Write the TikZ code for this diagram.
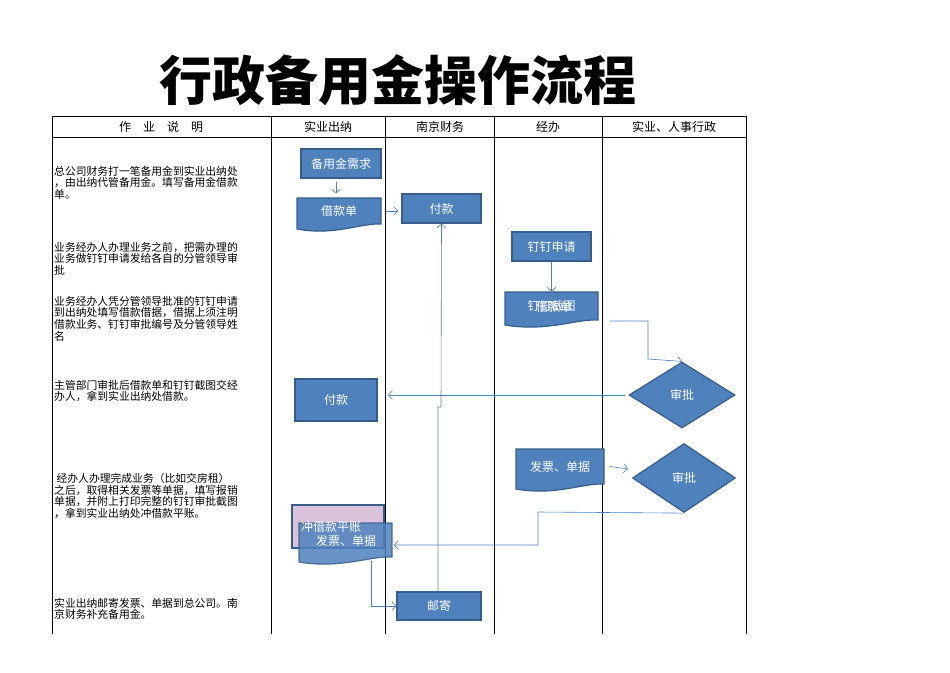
\documentclass[tikz,border=0pt]{standalone}
\usepackage{fontspec}
\setmainfont{Noto Sans CJK SC}
\usetikzlibrary{shapes.geometric,arrows.meta}
\definecolor{boxblue}{HTML}{4F81BD}
\definecolor{boxline}{HTML}{385D8A}
\definecolor{lilac}{HTML}{D9C3DA}
\tikzset{
  box/.style={draw=boxline,fill=boxblue,line width=1.2pt,text=white,font=\fontsize{12}{13}\selectfont,inner sep=0pt},
  docfill/.style={draw=boxline,fill=boxblue,line width=1.2pt},
  flow/.style={draw=boxblue,line width=0.6pt,-{Straight Barb[length=4pt,width=9pt]}},
  note/.style={anchor=north west,align=left,inner sep=0pt,font=\fontsize{10.8}{11.6}\selectfont},
  head/.style={font=\fontsize{12}{13}\selectfont},
}
% document shape: name, x1, y1, x2, y2, text
\newcommand\docnode[6]{%
  \filldraw[docfill] (#2,#3) -- (#4,#3) -- (#4,#5)
    .. controls ({#4-0.25*(#4-#2)},#5-1) and ({#2+0.45*(#4-#2)},#5+12) .. (#2,#5+5) -- cycle;
  \node[text=white,font=\fontsize{12}{13}\selectfont,inner sep=0pt,
    minimum width={(#4-#2)*1pt},minimum height={(#5-#3)*1pt}] (#1) at ({(#2+#4)/2},{(#3+#5)/2}) {#6};}
\begin{document}
\begin{tikzpicture}[x=1pt,y=-1pt]
\useasboundingbox (0,0) rectangle (950,672);
% title
\node[font=\fontsize{53}{56}\selectfont\bfseries] (title) at (398,80) {行政备用金操作流程};
% table
\draw[line width=0.8pt] (52,634) -- (52,116) -- (746,116) -- (746,634);
\draw[line width=0.6pt] (52,137) -- (746,137);
\foreach \x in {271,385,494,602} \draw[line width=0.8pt] (\x,116) -- (\x,634);
\node[head] (h1) at (161,127) {作\quad 业\quad 说\quad 明};
\node[head] (h2) at (328,127) {实业出纳};
\node[head] (h3) at (440,127) {南京财务};
\node[head] (h4) at (548,127) {经办};
\node[head] (h5) at (674,127) {实业、人事行政};
% notes
\node[note] (n1) at (54,166) {总公司财务打一笔备用金到实业出纳处\\，由出纳代管备用金。填写备用金借款\\单。};
\node[note] (n2) at (54,242) {业务经办人办理业务之前，把需办理的\\业务做钉钉申请发给各自的分管领导审\\批};
\node[note] (n3) at (54,296) {业务经办人凭分管领导批准的钉钉申请\\到出纳处填写借款借据，借据上须注明\\借款业务、钉钉审批编号及分管领导姓\\名};
\node[note] (n4) at (54,380) {主管部门审批后借款单和钉钉截图交经\\办人，拿到实业出纳处借款。};
\node[note] (n5) at (54,473) {\ 经办人办理完成业务（比如交房租）\\之后，取得相关发票等单据，填写报销\\单据，并附上打印完整的钉钉审批截图\\，拿到实业出纳处冲借款平账。};
\node[note] (n6) at (54,598) {实业出纳邮寄发票、单据到总公司。南\\京财务补充备用金。};
% boxes
\node[box,minimum width=80pt,minimum height=29pt] (need) at (341,163.5) {备用金需求};
\docnode{loan}{297}{198}{381}{224}{借款单}
\node[box,minimum width=79pt,minimum height=29pt] (payNJ) at (441.5,208.5) {付款};
\node[box,minimum width=79pt,minimum height=29pt] (ddapply) at (551.5,246.5) {钉钉申请};
\docnode{ddshot}{505}{292}{598}{320}{钉钉截图}
\node[text=white,font=\fontsize{12}{13}\selectfont] (loan2) at (554,307) {借款单};
\node[diamond,aspect=1.6,draw=boxline,fill=boxblue,line width=1.2pt,text=white,
  font=\fontsize{12}{13}\selectfont,minimum width=106pt,minimum height=66pt,inner sep=0pt] (approve1) at (682,395) {审批};
\node[box,minimum width=82pt,minimum height=42pt] (paySY) at (336,400) {付款};
\docnode{invoice}{516}{449}{604}{484}{发票、单据}
\node[diamond,aspect=1.5,draw=boxline,fill=boxblue,line width=1.2pt,text=white,
  font=\fontsize{12}{13}\selectfont,minimum width=103pt,minimum height=69pt,inner sep=0pt] (approve2) at (684,478) {审批};
\node[draw=boxline,fill=lilac,line width=1.2pt,minimum width=92pt,minimum height=43pt] (settle) at (338,526.5) {};
\begin{scope}[opacity=0.85]
\docnode{invoice2}{299}{523}{392}{557}{}
\end{scope}
\node[text=white,font=\fontsize{12}{13}\selectfont] (settletxt) at (331,527) {冲借款平账};
\node[text=white,font=\fontsize{12}{13}\selectfont] (invtxt) at (346,541) {发票、单据};
\node[box,minimum width=84pt,minimum height=28pt] (mail) at (439,606) {邮寄};
% connectors
\draw[flow] (need.south) ++(-5,3) -- ++(0,12);
\draw[flow] (loan.east) ++(5,0) -- ++(12,0);
\draw[flow] (ddapply.south) -- (ddshot.north);
\draw[flow] (610,321) -- (648,321) -- (648,359) -- (approve1.north);
\draw[flow] (approve1.west) ++(-3,0) -- (388,395);
\draw[flow] (invoice.east) ++(6,0) -- (628,469);
\draw[flow] (approve2.south) -- (538,512) -- (538,545) -- (394,545);
\draw[flow] (371,561) -- (371,606) -- (mail.west);
\draw[flow] (mail.north) ++(-1,0) -- (438,407) -- (441,407) -- (payNJ.south);
\end{tikzpicture}
\end{document}
